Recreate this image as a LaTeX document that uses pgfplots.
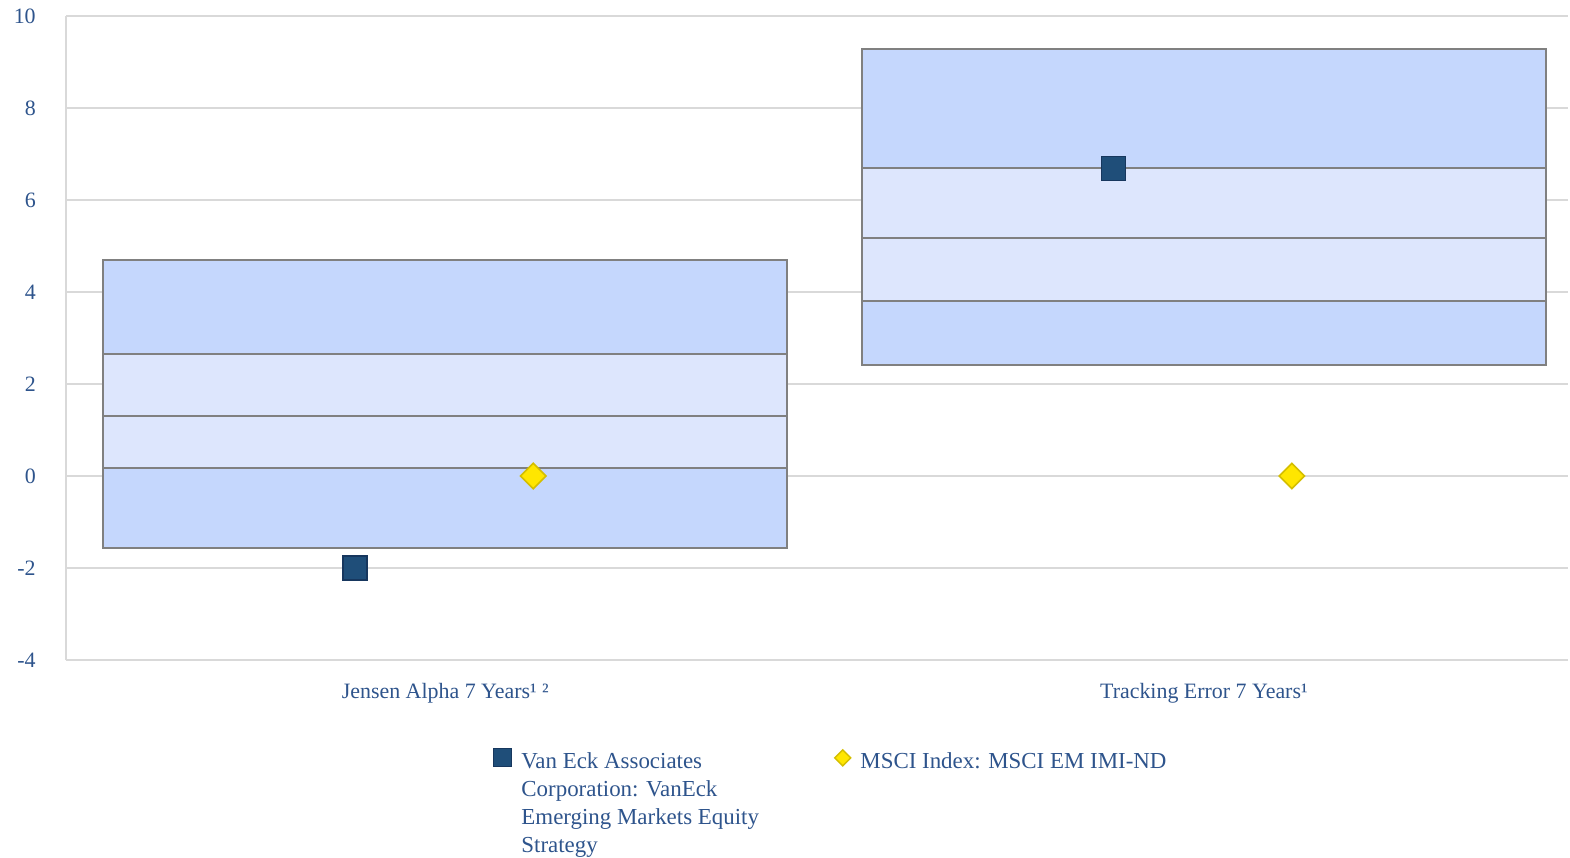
\documentclass[border=0pt]{standalone}
\usepackage{fontspec}
\setmainfont{Liberation Serif}
\usepackage{pgfplots}
\pgfplotsset{compat=1.18}
\usetikzlibrary{calc}

\definecolor{txt}{RGB}{46,84,140}
\definecolor{gridc}{RGB}{217,217,217}
\definecolor{outerband}{RGB}{197,215,253}
\definecolor{innerband}{RGB}{221,230,253}
\definecolor{boxline}{RGB}{128,128,128}
\definecolor{fund}{RGB}{31,78,121}
\definecolor{fundedge}{RGB}{23,55,94}
\definecolor{idx}{RGB}{255,230,0}
\definecolor{idxedge}{RGB}{212,190,0}
\definecolor{sepc}{RGB}{190,208,232}

\begin{document}
\begin{tikzpicture}
\begin{axis}[
    name=ax,
    scale only axis,
    width=751bp, height=322bp,
    xmin=-0.5, xmax=1.48,
    ymin=-4, ymax=10,
    ytick={-4,-2,...,10},
    xtick={0,1},
    xticklabels={Jensen Alpha 7 Years¹ ², Tracking Error 7 Years¹},
    separate axis lines,
    axis x line=bottom, axis y line=left,
    axis line style={draw=gridc, line width=1bp, -},
    ymajorgrids, grid style={draw=gridc, line width=1bp},
    xtick style={draw=none}, ytick style={draw=none},
    extra x ticks={-0.5,0.5},
    extra x tick labels={},
    extra x tick style={tick align=outside, major tick length=9bp,
        tick style={draw=sepc, line width=1bp}},
    /pgf/number format/assume math mode=true,
    tick label style={font=\fontsize{11}{13}\selectfont, text=txt},
    yticklabel style={xshift=-9.5bp},
    xticklabel style={yshift=-6bp},
    clip=false,
    legend columns=2,
    legend style={at={(0.2843,0)}, anchor=north west, yshift=-44bp,
        draw=none, fill=none, inner sep=0pt,
        font=\fontsize{11.5}{14}\selectfont, text=txt,
        nodes={inner sep=0pt, anchor=base west},
        /tikz/every odd column/.append style={column sep=4.5bp},
        /tikz/every even column/.append style={column sep=37.5bp}},
    legend cell align=left,
]
% Jensen Alpha box: 5th, 25th, median, 75th, 95th
\addplot[fill=outerband, draw=boxline, line width=1bp, forget plot] coordinates {(-0.451,-1.56) (0.451,-1.56) (0.451,0.17) (-0.451,0.17)} -- cycle;
\addplot[fill=innerband, draw=boxline, line width=1bp, forget plot] coordinates {(-0.451,0.17) (0.451,0.17) (0.451,1.30) (-0.451,1.30)} -- cycle;
\addplot[fill=innerband, draw=boxline, line width=1bp, forget plot] coordinates {(-0.451,1.30) (0.451,1.30) (0.451,2.65) (-0.451,2.65)} -- cycle;
\addplot[fill=outerband, draw=boxline, line width=1bp, forget plot] coordinates {(-0.451,2.65) (0.451,2.65) (0.451,4.70) (-0.451,4.70)} -- cycle;
% Tracking Error box
\addplot[fill=outerband, draw=boxline, line width=1bp, forget plot] coordinates {(0.549,2.41) (1.451,2.41) (1.451,3.81) (0.549,3.81)} -- cycle;
\addplot[fill=innerband, draw=boxline, line width=1bp, forget plot] coordinates {(0.549,3.81) (1.451,3.81) (1.451,5.17) (0.549,5.17)} -- cycle;
\addplot[fill=innerband, draw=boxline, line width=1bp, forget plot] coordinates {(0.549,5.17) (1.451,5.17) (1.451,6.69) (0.549,6.69)} -- cycle;
\addplot[fill=outerband, draw=boxline, line width=1bp, forget plot] coordinates {(0.549,6.69) (1.451,6.69) (1.451,9.28) (0.549,9.28)} -- cycle;

\addplot[only marks, mark=square*, mark size=6bp,
    mark options={fill=fund, draw=fundedge, line width=0.6bp},
    legend image code/.code={\draw[fill=fund, draw=fundedge, line width=0.5bp] (0bp,1bp) rectangle (9bp,10bp);}]
    coordinates {(-0.119,-2.0) (0.881,6.69)};
\addlegendentry{\begin{tabular}[t]{@{}l@{}}Van Eck Associates\\Corporation: VanEck\\Emerging Markets Equity\\Strategy\end{tabular}}
\addplot[only marks, mark=square*, mark size=4.5bp,
    mark options={rotate=45, fill=idx, draw=idxedge, line width=0.8bp},
    legend image code/.code={\draw[fill=idx, draw=idxedge, line width=0.7bp] (0bp,5.5bp) -- (4bp,9.5bp) -- (8bp,5.5bp) -- (4bp,1.5bp) -- cycle;}]
    coordinates {(0.116,0) (1.116,0)};
\addlegendentry{MSCI Index: MSCI EM IMI-ND}
\end{axis}
\pgfresetboundingbox
\path ($(ax.south west)+(-33bp,-99bp)$) rectangle ($(ax.north east)+(1bp,8bp)$);
\end{tikzpicture}
\end{document}
